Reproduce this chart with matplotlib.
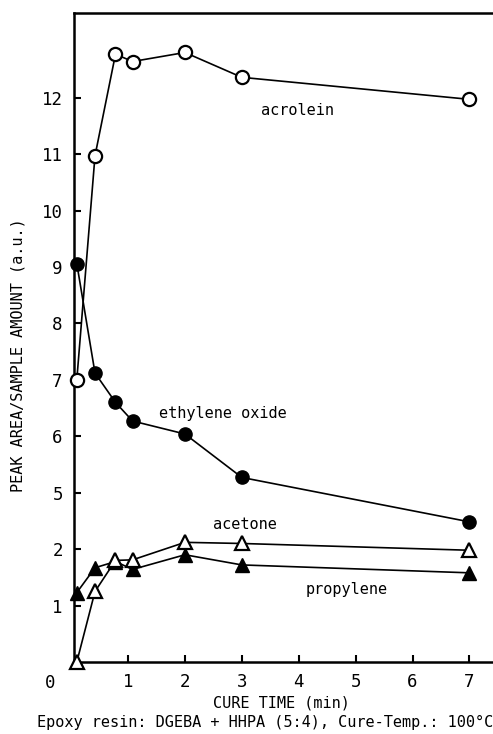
import numpy as np
import matplotlib
matplotlib.use("Agg")
import matplotlib.pyplot as plt

plt.rcParams["font.family"] = ["DejaVu Sans Mono"]

# cure time (min)
cure_time = [0.1, 0.42, 0.78, 1.08, 2.0, 3.0, 7.0]

# peak area / sample amount (a.u.)
acrolein = [7.0, 10.97, 12.77, 12.64, 12.8, 12.36, 11.97]
ethylene_oxide = [9.06, 7.12, 6.6, 6.27, 6.04, 5.27, 3.45]
acetone = [0.0, 1.25, 1.8, 1.81, 2.36, 2.3, 1.98]
propylene = [1.23, 1.67, 1.78, 1.64, 1.9, 1.72, 1.58]

y_ticks = [1, 2, 5, 6, 7, 8, 9, 10, 11, 12]
x_ticks = [1, 2, 3, 4, 5, 6, 7]

# axis is broken between 2 and 5: that range is squeezed into one tick step
BRK_V = [-20, 0, 2, 5, 30]
BRK_P = [-20, 0, 2, 3, 28]


def fwd(v):
    return np.interp(v, BRK_V, BRK_P)


def inv(p):
    return np.interp(p, BRK_P, BRK_V)


fig = plt.figure(figsize=(4.93, 7.34), dpi=100)
ax = fig.add_axes([0.150, 0.0981, 0.86, 0.8842])
ax.set_yscale("function", functions=(fwd, inv))

ms = 9.5
kw = dict(color="black", linewidth=1.2, clip_on=False, zorder=3)
ax.plot(cure_time, acrolein, marker="o", markersize=ms, markerfacecolor="white",
        markeredgewidth=1.6, **kw)
ax.plot(cure_time, ethylene_oxide, marker="o", markersize=ms, markerfacecolor="black", **kw)
ax.plot(cure_time, propylene, marker="^", markersize=ms, markerfacecolor="black", **kw)
ax.plot(cure_time, acetone, marker="^", markersize=ms, markerfacecolor="white",
        markeredgewidth=1.6, **kw)

ax.set_xlim(0.05, 7.5)
ax.set_ylim(0, 13.5)
ax.set_xticks(x_ticks)
ax.set_yticks(y_ticks)
ax.set_yticklabels([str(t) for t in y_ticks])
ax.minorticks_off()
ax.tick_params(direction="in", length=5, width=1.5, labelsize=12.5, pad=8)

for s in ["left", "bottom", "top"]:
    ax.spines[s].set_linewidth(1.8)
ax.spines["right"].set_visible(False)

fs = 11
ax.text(3.97, 11.77, "acrolein", fontsize=fs, ha="center", va="center")
ax.text(2.66, 6.41, "ethylene oxide", fontsize=fs, ha="center", va="center")
ax.text(3.06, 3.29, "acetone", fontsize=fs, ha="center", va="center")
ax.text(4.84, 1.28, "propylene", fontsize=fs, ha="center", va="center")

fig.text(50 / 493, 1 - 683 / 734, "0", fontsize=12.5, ha="center", va="center")
fig.text(281 / 493, 1 - 703 / 734, "CURE TIME (min)", fontsize=fs, ha="center", va="center")
fig.text(18 / 493, 1 - 355 / 734, "PEAK AREA/SAMPLE AMOUNT (a.u.)", fontsize=fs,
         rotation=90, ha="center", va="center")
fig.text(37 / 493, 1 - 722 / 734, "Epoxy resin: DGEBA + HHPA (5:4), Cure-Temp.: 100°C",
         fontsize=fs, ha="left", va="center")

fig.savefig("out.png", dpi=100)
